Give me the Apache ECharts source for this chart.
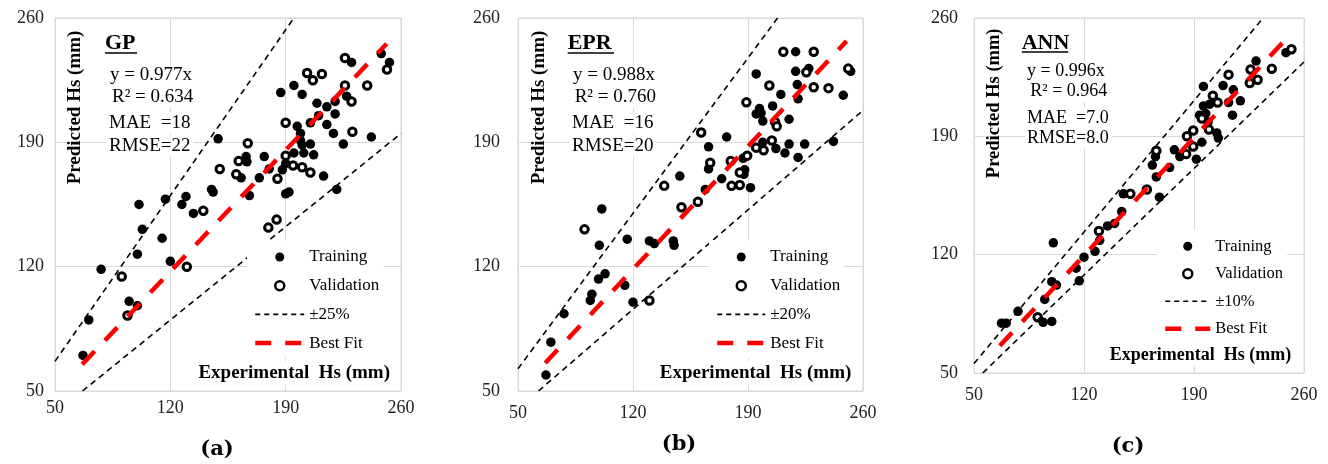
<!DOCTYPE html>
<html><head><meta charset="utf-8">
<script src="https://cdn.jsdelivr.net/npm/echarts@6/dist/echarts.min.js"></script>
<style>html,body{margin:0;padding:0;background:#fff}#c{width:1328px;height:464px}</style>
</head><body><div id="c"></div>
<script>
// ---------- DATA ----------
const axisTicks = [50, 120, 190, 260];
const panelTitles = ['GP', 'EPR', 'ANN'];
const panelTags = ['(a)', '(b)', '(c)'];
const bandNames = ['±25%', '±20%', '±10%'];
const fitEquations = ['y = 0.977x', 'y = 0.988x', 'y = 0.996x'];
const r2Labels = ['R² = 0.634', 'R² = 0.760', 'R² = 0.964'];
const maeLabels = ['MAE  =18', 'MAE  =16', 'MAE  =7.0'];
const rmseLabels = ['RMSE=22', 'RMSE=20', 'RMSE=8.0'];

const gpTraining = [[248,240],[253,235],[230,235],[195,222],[187,218],[200,217],[227,216],[209,212],[215,210],[220,213],[210,205],[220,206],[197,199],[215,200],[205,201],[219,195],[242,193],[225,189],[199,195],[199,191],[200,188.5],[205,189],[149,192],[195,184],[201,184],[207,183],[166,182],[177,182],[166.5,179],[190,178],[188,174.5],[180,175],[213,171],[163,170],[174,170],[221,163.5],[145,163.5],[146,162],[190,161],[192,162],[129.5,159.5],[168,160],[117,158],[127,155],[134,150],[101,155],[103,141],[115,136],[100,127],[120,123],[78,118.5],[95,100.5],[100,98],[70.5,90],[67,70]];
const gpValidation = [[251.5,231],[226,237.5],[203,229],[206.5,225],[212,228.5],[226,222],[239.5,222],[230,213],[190,201],[230.5,196],[167,189.5],[190,182.5],[161.5,179.5],[194.5,177],[200,176],[205,173],[150,175],[160,172],[185,169.5],[140,151.5],[179.5,142],[184.5,146.5],[130,120],[90.5,114.5],[94,92.5]];
const gpUpper = [[50,66.7],[195,260]];
const gpLower = [[66.7,50],[260,195]];
const gpFit = [[66.5,65],[251.3,245.5]];

const eprTraining = [[219,241],[219,230],[227,231.5],[195,228.5],[220,222.5],[210,217],[220.5,214.5],[248,216.5],[205,210.5],[197,209],[198,206.5],[195,206],[199,202],[215,203],[177,193],[166,187.5],[199,190],[207,186.5],[212.5,184],[215,189],[224.5,189],[220.5,181.5],[242,190.5],[187,181],[166,175],[148.5,171],[174,169.5],[188,174.5],[187.5,172],[191.5,164.5],[164,163.5],[252.5,230],[101,152.5],[116.5,135.5],[130,134.5],[133,133],[144.5,134.5],[145,132],[99.5,132],[103,116],[99,113],[115,109.5],[95,104.5],[94,101],[120,100],[78,93.5],[70,77.5],[67,59]];
const eprValidation = [[211.5,241],[230,241],[225.5,229.5],[251,231.5],[203,222],[230,221],[239,220.5],[189,212.5],[206.5,201.5],[207.5,199],[204.5,191],[195,187],[199.5,185.5],[161.5,195.5],[167,178.5],[179.5,179.5],[189.5,182.5],[185,173],[180,165.5],[185,166],[139,165.5],[159.5,156.5],[149.5,153.5],[90.5,141],[130,101]];
const eprUpper = [[50,62.5],[208,260]];
const eprLower = [[62.5,50],[260,208]];
const eprFit = [[66.6,65.8],[250,247]];

const annTraining = [[248.5,239.5],[229.5,234.5],[215,217.5],[219.5,211],[208.5,220],[196,219.5],[212,210],[214.5,202.5],[200,209],[196,208],[193.5,202.5],[197.5,203.5],[199,198.5],[204.5,192],[205.5,189],[195,186.5],[191.5,176.5],[177.5,182],[174.5,171.5],[181,178],[163.5,173],[165.5,178],[166,166],[168,154],[145,156],[144,145.5],[139.5,138.5],[135,137],[130,128.5],[127,122],[120,118.5],[100.5,127],[115,112],[117,104.5],[99.5,104],[102.5,102],[95,93.5],[78,86.5],[67.5,79.5],[70.5,79.5],[94,80],[99.5,80.5]];
const annValidation = [[252,241.5],[239.5,230],[226,229.5],[230.5,223.5],[225.5,221.5],[212,226.5],[202,214],[205,210],[199.5,194],[195,200.5],[189.5,193.5],[185.5,190],[189.5,184],[185,179.5],[166,181.5],[160,158.5],[149.5,156],[129.5,134],[90.5,83]];
const annUpper = [[50,55.6],[234,260]];
const annLower = [[55.6,50],[260,234]];
const annFit = [[66.4,66.1],[249.4,248.4]];

// ---------- LAYOUT ----------
const panels = [
  {grid:{left:55,top:18,width:346,height:373}, xMargin:8, yMargin:11,
   training:gpTraining, validation:gpValidation, upper:gpUpper, lower:gpLower, fit:gpFit,
   legend:{left:247,top:240.5,itemWidth:49,fontSize:17,itemGap:11.7},
   title:{x:105,y:43,ux2:137,uy:53}, stats:{xs:[108,110,107,107], ys:[75,97,123,146], fs:19},
   ylab:{x:75.5,y:107.5,fs:19}, xlab:{x:392,y:372.7,fs:19}, tag:{x:217,y:450}},
  {grid:{left:518,top:18,width:345,height:373}, xMargin:13, yMargin:18,
   training:eprTraining, validation:eprValidation, upper:eprUpper, lower:eprLower, fit:eprFit,
   legend:{left:709,top:240.5,itemWidth:48,fontSize:17,itemGap:11.7},
   title:{x:567.7,y:43.3,ux2:614,uy:53}, stats:{xs:[571,572.7,570,570], ys:[75,96.7,123.3,145.7], fs:19},
   ylab:{x:539,y:107.5,fs:19}, xlab:{x:853.3,y:372.7,fs:19}, tag:{x:679,y:445}},
  {grid:{left:974,top:18,width:330,height:355}, xMargin:13, yMargin:16,
   training:annTraining, validation:annValidation, upper:annUpper, lower:annLower, fit:annFit,
   legend:{left:1157,top:229.7,itemWidth:45,fontSize:16.5,itemGap:10.5},
   title:{x:1021.7,y:43.3,ux2:1068.3,uy:52}, stats:{xs:[1025,1028.3,1025,1025], ys:[71.7,91.7,118.3,138.3], fs:18},
   ylab:{x:994.5,y:103.3,fs:18.5}, xlab:{x:1293.3,y:355,fs:18}, tag:{x:1128,y:447}}
];

const SERIF = '"Liberation Serif", "Times New Roman", serif';
const grids = [], xAxes = [], yAxes = [], series = [], legends = [], graphics = [];

function txt(x, y, s, font, align, extra) {
  return Object.assign({type:'text', x:x, y:y, z:100,
    style:{text:s, font:font, fill:'#000', textAlign:align, align:align,
           textVerticalAlign:'middle', verticalAlign:'middle'}}, extra || {});
}

panels.forEach((p, i) => {
  grids.push(Object.assign({show:true, borderColor:'#d9d9d9', borderWidth:1, backgroundColor:'transparent'}, p.grid));
  const axisCommon = {
    gridIndex:i, type:'value', min:axisTicks[0], max:axisTicks[axisTicks.length-1],
    interval:axisTicks[1]-axisTicks[0],
    axisLine:{show:false}, axisTick:{show:false},
    splitLine:{show:true, lineStyle:{color:'#d9d9d9', width:1}}
  };
  xAxes.push(Object.assign({}, axisCommon, {axisLabel:{margin:p.xMargin, fontFamily:SERIF, fontSize:18, color:'#222', showMinLabel:true, showMaxLabel:true}}));
  yAxes.push(Object.assign({}, axisCommon, {axisLabel:{margin:p.yMargin, fontFamily:SERIF, fontSize:18, color:'#222', showMinLabel:true, showMaxLabel:true}}));

  series.push({name:'Training', type:'scatter', xAxisIndex:i, yAxisIndex:i, data:p.training,
    symbol:'circle', symbolSize:9.5, itemStyle:{color:'#000', opacity:1}, z:2, silent:true});
  series.push({name:'Validation', type:'scatter', xAxisIndex:i, yAxisIndex:i, data:p.validation,
    symbol:'circle', symbolSize:7.5, itemStyle:{color:'#fff', borderColor:'#000', borderWidth:3, opacity:1}, z:2, silent:true});
  [p.upper, p.lower].forEach(d => series.push({name:bandNames[i], type:'line', xAxisIndex:i, yAxisIndex:i, data:d,
    symbol:'none', itemStyle:{color:'#000'}, lineStyle:{color:'#000', width:1.6, type:[6,4.5]}, z:3, silent:true}));
  series.push({name:'Best Fit', type:'line', xAxisIndex:i, yAxisIndex:i, data:p.fit,
    symbol:'none', itemStyle:{color:'#ff0000'}, lineStyle:{color:'#ff0000', width:4.5, type:[18,15]}, z:4, silent:true});

  legends.push({
    left:p.legend.left, top:p.legend.top, orient:'vertical', selectedMode:false,
    itemWidth:p.legend.itemWidth, itemHeight:9, itemGap:p.legend.itemGap,
    backgroundColor:'#fff', padding:[8,4,6,6],
    textStyle:{fontFamily:SERIF, fontSize:p.legend.fontSize, color:'#000'},
    data:[
      {name:'Training', icon:'circle', itemStyle:{color:'#000', borderWidth:0, opacity:1}},
      {name:'Validation', icon:'circle', itemStyle:{color:'#fff', borderColor:'#000', borderWidth:2.5, opacity:1}},
      {name:bandNames[i], itemStyle:{color:'rgba(0,0,0,0)', borderWidth:0, opacity:0}, lineStyle:{color:'#000', width:1.6, type:[5,4]}},
      {name:'Best Fit', itemStyle:{color:'rgba(0,0,0,0)', borderWidth:0, opacity:0}, lineStyle:{color:'#ff0000', width:4.5, type:[16,14]}}
    ]
  });

  graphics.push(txt(p.title.x, p.title.y, panelTitles[i], 'bold 22px ' + SERIF, 'left'));
  graphics.push({type:'line', z:100, shape:{x1:p.title.x, y1:p.title.uy, x2:p.title.ux2, y2:p.title.uy},
    style:{stroke:'#000', lineWidth:1.5}});
  const statTexts = [fitEquations[i], r2Labels[i], maeLabels[i], rmseLabels[i]];
  statTexts.forEach((s, k) => {
    const t = txt(p.stats.xs[k], p.stats.ys[k], s, p.stats.fs + 'px ' + SERIF, 'left');
    t.style.backgroundColor = '#fff'; t.style.padding = [1, 3, 1, 2];
    graphics.push(t);
  });
  graphics.push(txt(p.ylab.x, p.ylab.y, 'Predicted Hs (mm)', 'bold ' + p.ylab.fs + 'px ' + SERIF, 'center', {rotation:Math.PI/2}));
  const xl = txt(p.xlab.x, p.xlab.y, 'Experimental  Hs (mm)', 'bold ' + p.xlab.fs + 'px ' + SERIF, 'right');
  xl.style.backgroundColor = '#fff'; xl.style.padding = [2, 2, 2, 2];
  graphics.push(xl);
  graphics.push(txt(p.tag.x, p.tag.y, panelTags[i], 'bold 21px "DejaVu Serif", serif', 'center'));
});

const chart = echarts.init(document.getElementById('c'), null, {renderer:'canvas'});
chart.setOption({
  animation:false,
  backgroundColor:'#fff',
  grid:grids, xAxis:xAxes, yAxis:yAxes, series:series, legend:legends, graphic:graphics
});
</script></body></html>
